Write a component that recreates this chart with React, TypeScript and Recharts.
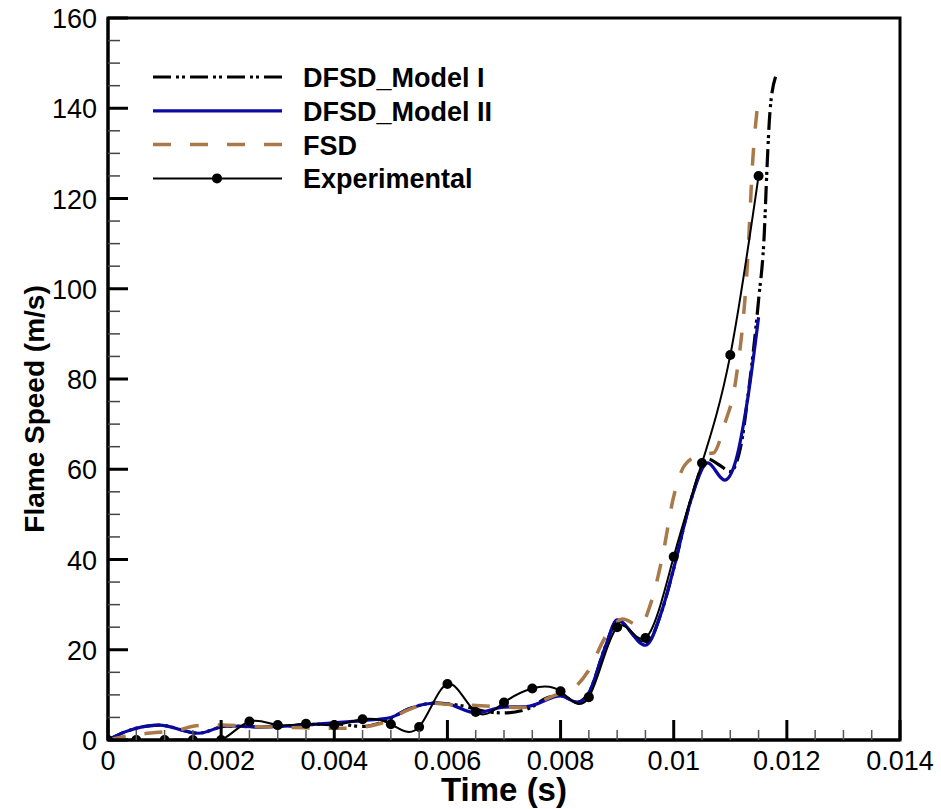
import React from 'react';
import { LineChart, Line, XAxis, YAxis, ReferenceArea, Legend } from 'recharts';

// ---------- data ----------
const expTime = [0, 0.0005, 0.001, 0.0015, 0.002, 0.0025, 0.003, 0.0035, 0.004, 0.0045, 0.005, 0.0055, 0.006, 0.0065, 0.007, 0.0075, 0.008, 0.0085, 0.009, 0.0095, 0.01, 0.0105, 0.011, 0.0115];
const expSpeed = [0, 0, 0, 0, 0, 4.1, 3.3, 3.6, 3.3, 4.6, 3.5, 2.9, 12.4, 6.2, 8.3, 11.4, 10.8, 9.5, 25, 22.6, 40.6, 61.4, 85.3, 125];

const model1Time = [0, 0.0003, 0.0009, 0.0016, 0.0021, 0.0027, 0.0033, 0.004, 0.0045, 0.005, 0.0053, 0.0058, 0.006, 0.0063, 0.0066, 0.007, 0.0074, 0.0078, 0.008, 0.0083, 0.0085, 0.0088, 0.009, 0.0095, 0.0098, 0.01, 0.0103, 0.0106, 0.0108, 0.011, 0.0112, 0.0113, 0.0115, 0.0116, 0.01165, 0.0117, 0.0118];
const model1Speed = [0, 1.8, 3.3, 1.5, 3.1, 2.9, 3.2, 3.6, 3.0, 4.8, 6.8, 8.2, 8.0, 7.5, 6.5, 6.0, 6.8, 9.5, 9.8, 8.4, 10.5, 21, 26.3, 21.3, 29, 38, 53, 62.3, 61, 59.5, 66, 75, 97.5, 112, 127, 139, 147];

const model2Time = [0, 0.0003, 0.0009, 0.0016, 0.0021, 0.0027, 0.0033, 0.004, 0.0045, 0.005, 0.0053, 0.0058, 0.006, 0.0065, 0.007, 0.0074, 0.008, 0.0083, 0.0085, 0.0088, 0.009, 0.0095, 0.0098, 0.01, 0.0103, 0.0106, 0.0109, 0.0111, 0.0113, 0.0115];
const model2Speed = [0, 1.8, 3.3, 1.5, 3.1, 2.9, 3.2, 3.8, 4.3, 5.0, 6.8, 8.2, 8.0, 6.0, 7.3, 7.4, 9.8, 8.3, 10.5, 21, 26.6, 21, 29, 38, 53, 61.4, 57.6, 62, 75, 93.7];

const fsdTime = [0, 0.0005, 0.0009, 0.0012, 0.0016, 0.002, 0.0028, 0.0035, 0.0042, 0.0048, 0.0053, 0.0057, 0.006, 0.0066, 0.0073, 0.0079, 0.0082, 0.0085, 0.0088, 0.0091, 0.0094, 0.0096, 0.0098, 0.01, 0.0102, 0.0105, 0.0107, 0.0109, 0.0111, 0.0113, 0.0114, 0.0115];
const fsdSpeed = [0, 1.2, 1.7, 2.1, 3.2, 3.3, 2.9, 2.7, 2.6, 3.6, 6.6, 8.2, 7.9, 7.6, 7.2, 9.9, 11.2, 15.5, 23, 26.8, 25.3, 30.5, 40.6, 54, 61, 63.3, 63.6, 70, 80, 105, 129, 142.5];

const xTicks = [0, 0.0005, 0.001, 0.0015, 0.002, 0.0025, 0.003, 0.0035, 0.004, 0.0045, 0.005, 0.0055, 0.006, 0.0065, 0.007, 0.0075, 0.008, 0.0085, 0.009, 0.0095, 0.01, 0.0105, 0.011, 0.0115, 0.012, 0.0125, 0.013, 0.0135, 0.014];
const xMajorTicks = [0, 0.002, 0.004, 0.006, 0.008, 0.01, 0.012, 0.014];
const xTickLabels = ['0', '0.002', '0.004', '0.006', '0.008', '0.01', '0.012', '0.014'];
const yTicks = [0, 5, 10, 15, 20, 25, 30, 35, 40, 45, 50, 55, 60, 65, 70, 75, 80, 85, 90, 95, 100, 105, 110, 115, 120, 125, 130, 135, 140, 145, 150, 155, 160];
const yMajorTicks = [0, 20, 40, 60, 80, 100, 120, 140, 160];
const yTickLabels = ['0', '20', '40', '60', '80', '100', '120', '140', '160'];

const zip = (t: number[], v: number[]) => t.map((tt, i) => ({ t: tt, v: v[i] }));
const expData = zip(expTime, expSpeed);
const model1Data = zip(model1Time, model1Speed);
const model2Data = zip(model2Time, model2Speed);
const fsdData = zip(fsdTime, fsdSpeed);

// ---------- styles ----------
const FONT = '"Liberation Sans", Arial, Helvetica, sans-serif';
const BLUE = '#0a0aa0';
const BROWN = '#a9794a';

const SERIES = [
  { name: 'DFSD_Model I', color: '#000', width: 3.2, dash: '18 5 3 3 3 5', dot: false },
  { name: 'DFSD_Model II', color: BLUE, width: 3.2, dash: undefined as string | undefined, dot: false },
  { name: 'FSD', color: BROWN, width: 3.5, dash: '18 19', dot: false },
  { name: 'Experimental', color: '#000', width: 2, dash: undefined as string | undefined, dot: true },
];

const findIdx = (arr: number[], v: number) => arr.findIndex((a) => Math.abs(a - v) < 1e-9);

const XTick = (props: any) => {
  const { x, y, payload } = props;
  const mi = findIdx(xMajorTicks, payload.value);
  const major = mi >= 0;
  return (
    <g>
      <line x1={x} x2={x} y1={y} y2={y - (major ? 20 : 10)} stroke={major ? '#000' : '#555'} strokeWidth={major ? 3 : 1.5} />
      {major && (
        <text x={x} y={y + 30} textAnchor="middle" fontSize={27} fontFamily={FONT} fill="#000">
          {xTickLabels[mi]}
        </text>
      )}
    </g>
  );
};

const YTick = (props: any) => {
  const { x, y, payload } = props;
  const mi = findIdx(yMajorTicks, payload.value);
  const major = mi >= 0;
  return (
    <g>
      <line x1={x} x2={x + (major ? 20 : 12)} y1={y} y2={y} stroke={major ? '#000' : '#444'} strokeWidth={major ? 3 : 1.5} />
      {major && (
        <text x={x - 11} y={y + 1} textAnchor="end" dominantBaseline="central" fontSize={27} fontFamily={FONT} fill="#000">
          {yTickLabels[mi]}
        </text>
      )}
    </g>
  );
};

const XLabel = (p: any) => {
  const vb = p.viewBox;
  return (
    <text x={vb.x + vb.width / 2} y={vb.y + 61} textAnchor="middle" fontWeight="bold" fontSize={33} fontFamily={FONT} fill="#000">
      Time (s)
    </text>
  );
};

const YLabel = (p: any) => {
  const vb = p.viewBox;
  const cx = vb.x + 44;
  const cy = vb.y + vb.height / 2 + 30;
  return (
    <text x={cx} y={cy} transform={`rotate(-90, ${cx}, ${cy})`} textAnchor="middle" fontWeight="bold" fontSize={28} fontFamily={FONT} fill="#000">
      Flame Speed (m/s)
    </text>
  );
};

const renderLegend = () => (
  <svg width={400} height={140} style={{ display: 'block', overflow: 'visible' }}>
    {SERIES.map((s, i) => {
      const cy = 17 + i * 33.8;
      return (
        <g key={s.name}>
          <line x1={13} x2={142} y1={cy} y2={cy} stroke={s.color} strokeWidth={s.width} strokeDasharray={s.dash} />
          {s.dot && <circle cx={77} cy={cy} r={5} fill="#000" />}
          <text x={163} y={cy + 1} dominantBaseline="central" fontWeight="bold" fontSize={27} fontFamily={FONT} fill="#000">
            {s.name}
          </text>
        </g>
      );
    })}
  </svg>
);

export default function App() {
  return (
    <div style={{ position: 'absolute', left: 0, top: 0, width: 941, height: 809, background: '#fff' }}>
      <LineChart width={941} height={809} margin={{ top: 18, right: 41, bottom: 0, left: 0 }} style={{ fontFamily: FONT }}>
        <XAxis
          type="number"
          dataKey="t"
          domain={[0, 0.014]}
          ticks={xTicks}
          interval={0}
          allowDataOverflow
          height={69}
          tickSize={0}
          tickMargin={0}
          tickLine={false}
          axisLine={{ stroke: '#000', strokeWidth: 3 }}
          tick={<XTick />}
          label={XLabel}
        />
        <YAxis
          type="number"
          dataKey="v"
          domain={[0, 160]}
          ticks={yTicks}
          interval={0}
          allowDataOverflow
          width={108}
          tickSize={0}
          tickMargin={0}
          tickLine={false}
          axisLine={{ stroke: '#000', strokeWidth: 3 }}
          tick={<YTick />}
          label={YLabel}
        />
        <ReferenceArea x1={0} x2={0.014} y1={0} y2={160} fill="none" fillOpacity={0} stroke="#000" strokeWidth={3} />
        <Legend
          layout="vertical"
          align="center"
          verticalAlign="middle"
          content={renderLegend}
          wrapperStyle={{ left: 140, top: 60, width: 400, height: 140 }}
        />
        <Line name={SERIES[0].name} data={model1Data} dataKey="v" type="monotone" stroke={SERIES[0].color} strokeWidth={SERIES[0].width} strokeDasharray={SERIES[0].dash} dot={false} activeDot={false} isAnimationActive={false} />
        <Line name={SERIES[1].name} data={model2Data} dataKey="v" type="monotone" stroke={SERIES[1].color} strokeWidth={SERIES[1].width} dot={false} activeDot={false} isAnimationActive={false} />
        <Line name={SERIES[2].name} data={fsdData} dataKey="v" type="monotone" stroke={SERIES[2].color} strokeWidth={SERIES[2].width} strokeDasharray={SERIES[2].dash} dot={false} activeDot={false} isAnimationActive={false} />
        <Line name={SERIES[3].name} data={expData} dataKey="v" type="natural" stroke={SERIES[3].color} strokeWidth={SERIES[3].width} dot={{ r: 5, fill: '#000', stroke: '#000', strokeWidth: 0 }} activeDot={false} isAnimationActive={false} />
      </LineChart>
    </div>
  );
}
